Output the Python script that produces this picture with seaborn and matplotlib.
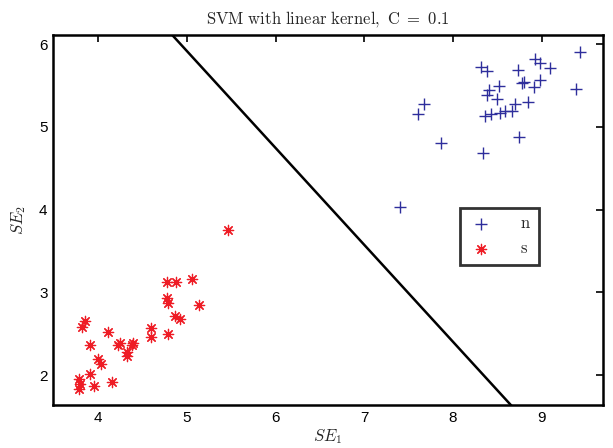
import matplotlib
matplotlib.use("Agg")
import matplotlib.pyplot as plt
import numpy as np
import pandas as pd
import seaborn as sns

# class n (blue +)
n_x = [9.43, 8.92, 8.98, 9.09, 8.73, 8.32, 8.38, 8.98, 8.80, 8.78, 8.91, 8.52, 8.41,
       8.38, 8.50, 9.39, 8.84, 8.70, 7.67, 7.60, 8.36, 8.43, 8.53, 8.59, 8.66, 8.74,
       7.86, 8.34, 7.40]
n_y = [5.91, 5.82, 5.77, 5.71, 5.69, 5.72, 5.67, 5.57, 5.54, 5.53, 5.48, 5.49, 5.44,
       5.38, 5.34, 5.46, 5.30, 5.28, 5.28, 5.16, 5.13, 5.16, 5.17, 5.19, 5.19, 4.88,
       4.80, 4.69, 4.03]

# class s (red *)
s_x = [5.46, 5.06, 4.78, 4.88, 5.14, 4.77, 4.79, 4.86, 4.92, 3.85, 3.82, 4.60, 4.60,
       4.79, 4.11, 3.91, 4.24, 4.22, 4.39, 4.38, 4.32, 4.32, 4.00, 4.03, 3.91, 3.78,
       3.79, 3.78, 3.95, 4.15]
s_y = [3.76, 3.16, 3.12, 3.12, 2.85, 2.93, 2.87, 2.71, 2.68, 2.65, 2.58, 2.57, 2.46,
       2.50, 2.52, 2.37, 2.39, 2.37, 2.39, 2.37, 2.28, 2.23, 2.20, 2.14, 2.01, 1.96,
       1.89, 1.83, 1.87, 1.92]

# decision boundary  y = slope * x + intercept
slope = -1.171
intercept = 11.77

sns.set_style("white")
plt.rcParams["mathtext.fontset"] = "cm"
plt.rcParams["font.family"] = ["Liberation Sans", "DejaVu Sans"]

fig = plt.figure(figsize=(6.13, 4.48), dpi=100)
ax = fig.add_axes([0.0865, 0.096, 0.8972, 0.8259])

df_n = pd.DataFrame({"x": n_x, "y": n_y})
df_s = pd.DataFrame({"x": s_x, "y": s_y})

sns.scatterplot(data=df_n, x="x", y="y", marker="+", s=70, color="#2e2e9c",
                linewidth=1.0, label="n", ax=ax)
sns.scatterplot(data=df_s, x="x", y="y", marker=(8, 2, 0), s=55, color="#ee1c25",
                linewidth=0.9, label="s", ax=ax)

xlim = (3.49, 9.69)
ylim = (1.64, 6.11)
bx = np.array(xlim)
sns.lineplot(x=bx, y=slope * bx + intercept, color="black", linewidth=1.8, ax=ax)

ax.set_xlim(xlim)
ax.set_ylim(ylim)
ax.set_xticks([4, 5, 6, 7, 8, 9])
ax.set_yticks([2, 3, 4, 5, 6])
ax.tick_params(direction="in", top=True, right=True, length=5, width=1.2,
               labelsize=11, colors="black", pad=4)
for sp in ax.spines.values():
    sp.set_linewidth(1.8)
    sp.set_color("black")

ax.set_xlabel(r"$SE_1$", fontsize=12, labelpad=2)
ax.set_ylabel(r"$SE_2$", fontsize=12, labelpad=8)
ax.set_title(r"$\mathrm{SVM\ with\ linear\ kernel,\ C\ {=}\ 0.1}$", fontsize=12, pad=8)

leg = ax.legend(loc="upper left", bbox_to_anchor=(0.74, 0.532), frameon=True,
                fancybox=False, fontsize=12, handlelength=1.5, borderpad=0.5,
                labelspacing=0.6, handletextpad=1.6, borderaxespad=0)
leg.get_frame().set_edgecolor("black")
leg.get_frame().set_linewidth(2)
for t in leg.get_texts():
    t.set_text(r"$\mathrm{" + t.get_text() + "}$")

fig.savefig("out.png", dpi=100)
